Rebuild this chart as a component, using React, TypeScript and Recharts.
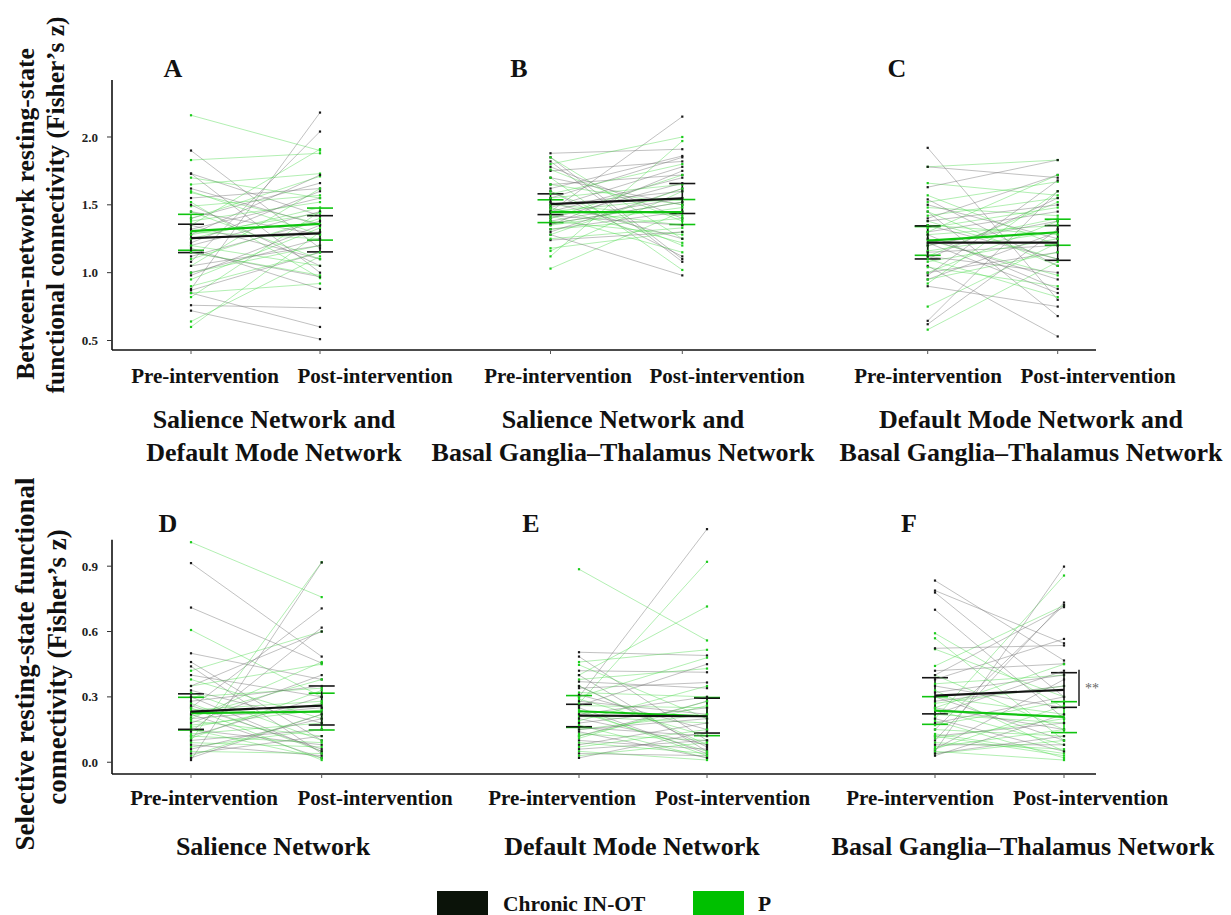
import React from 'react';
import { ComposedChart, Scatter, XAxis, YAxis, ErrorBar, ReferenceLine } from 'recharts';

type Pair = [number, number];
type Stat = [number, number, number]; // mean, lower, upper

// ---------- text ----------
const CATEGORIES = ['Pre-intervention', 'Post-intervention'];
const GROUPS = ['Chronic IN-OT', 'P'];
const PANEL_LETTERS = ['A', 'B', 'C', 'D', 'E', 'F'];
const PANEL_TITLES: string[][] = [
  ['Salience Network and', 'Default Mode Network'],
  ['Salience Network and', 'Basal Ganglia\u2013Thalamus Network'],
  ['Default Mode Network and', 'Basal Ganglia\u2013Thalamus Network'],
  ['Salience Network'],
  ['Default Mode Network'],
  ['Basal Ganglia\u2013Thalamus Network'],
];
const ROW1_YTITLE = ['Between-network resting-state', 'functional connectivity (Fisher\u2019s z)'];
const ROW2_YTITLE = ['Selective resting-state functional', 'connectivity (Fisher\u2019s z)'];
const ROW1_TICKS = [0.5, 1.0, 1.5, 2.0];
const ROW2_TICKS = [0.0, 0.3, 0.6, 0.9];
const SIG_LABEL = '**';

// ---------- data: [pre, post] per participant ----------
const A_BLACK: Pair[] = [
  [1.90, 1.18], [0.88, 2.18], [1.08, 2.04], [1.73, 1.42], [1.73, 1.00], [1.55, 1.62],
  [0.72, 0.51], [0.76, 0.74], [0.85, 0.60], [1.40, 1.66], [1.32, 1.55], [1.25, 1.30],
  [1.20, 1.45], [1.18, 0.88], [1.12, 1.38], [1.35, 1.10], [1.00, 1.25], [0.98, 1.35],
  [1.45, 1.28], [1.28, 1.72], [1.15, 0.97], [1.05, 1.20], [0.87, 1.15], [1.50, 1.05],
  [1.62, 1.35], [1.22, 1.60],
];
const A_GREEN: Pair[] = [
  [2.16, 1.90], [1.83, 1.88], [1.65, 1.73], [1.59, 1.36], [1.52, 0.96], [1.49, 1.57],
  [0.60, 1.30], [0.64, 1.12], [0.82, 1.45], [0.85, 0.92], [1.40, 1.71], [1.35, 1.91],
  [1.30, 1.25], [1.25, 1.48], [1.20, 1.05], [1.10, 1.40], [1.05, 1.62], [1.00, 1.20],
  [0.95, 1.33], [1.45, 1.10], [1.38, 1.52], [1.15, 0.98], [1.28, 1.44], [1.60, 1.28],
  [1.70, 1.55], [0.90, 1.15],
];
const B_BLACK: Pair[] = [
  [1.88, 1.91], [1.85, 1.10], [1.82, 1.08], [1.45, 2.15], [1.78, 1.40], [1.75, 1.82],
  [1.70, 1.50], [1.65, 1.72], [1.60, 1.12], [1.55, 1.85], [1.50, 1.60], [1.48, 1.78],
  [1.42, 1.35], [1.40, 1.66], [1.38, 1.55], [1.35, 1.75], [1.32, 1.45], [1.30, 1.62],
  [1.28, 0.98], [1.24, 1.30], [1.52, 1.25], [1.62, 1.86], [1.45, 1.70], [1.36, 1.52],
];
const B_GREEN: Pair[] = [
  [1.03, 1.45], [1.12, 1.97], [1.16, 1.60], [1.18, 1.30], [1.80, 2.00], [1.85, 1.25],
  [1.76, 1.38], [1.70, 1.02], [1.65, 1.50], [1.60, 1.20], [1.55, 1.65], [1.50, 1.42],
  [1.47, 1.35], [1.45, 1.55], [1.42, 1.15], [1.40, 1.72], [1.38, 1.28], [1.35, 1.48],
  [1.32, 1.40], [1.28, 1.62], [1.25, 1.33], [1.58, 1.80], [1.48, 1.22], [1.36, 1.52],
];
const C_BLACK: Pair[] = [
  [1.92, 0.80], [1.78, 1.70], [1.63, 1.83], [1.54, 1.05], [1.50, 1.25], [1.45, 0.68],
  [1.40, 1.72], [1.35, 1.10], [1.30, 1.45], [1.25, 0.95], [1.20, 1.38], [1.15, 1.20],
  [1.10, 1.55], [1.05, 0.53], [1.00, 1.15], [0.95, 1.30], [0.90, 0.75], [0.645, 1.60],
  [0.62, 1.32], [1.28, 0.88], [1.12, 1.00], [1.38, 1.50], [0.98, 1.68], [1.22, 0.85],
];
const C_GREEN: Pair[] = [
  [1.78, 1.83], [1.66, 1.57], [1.57, 1.20], [1.52, 1.67], [1.48, 1.42], [1.42, 1.55],
  [1.38, 1.10], [1.33, 1.48], [1.28, 1.35], [1.24, 0.98], [1.20, 1.40], [1.16, 1.30],
  [1.12, 1.52], [1.08, 1.25], [1.04, 0.90], [1.00, 1.38], [0.95, 1.15], [0.92, 1.60],
  [0.75, 1.22], [0.58, 1.08], [1.45, 1.05], [1.30, 1.72], [1.10, 0.82], [1.35, 1.28],
];
const D_BLACK: Pair[] = [
  [0.914, 0.485], [0.71, 0.455], [0.50, 0.38], [0.46, 0.10], [0.44, 0.04], [0.01, 0.917],
  [0.25, 0.706], [0.35, 0.60], [0.40, 0.30], [0.30, 0.05], [0.28, 0.35], [0.22, 0.02],
  [0.20, 0.25], [0.18, 0.40], [0.15, 0.08], [0.12, 0.30], [0.10, 0.15], [0.08, 0.03],
  [0.06, 0.20], [0.04, 0.12], [0.33, 0.18], [0.14, 0.618], [0.26, 0.06], [0.02, 0.22],
];
const D_GREEN: Pair[] = [
  [1.01, 0.758], [0.607, 0.30], [0.10, 0.918], [0.42, 0.60], [0.38, 0.20], [0.35, 0.45],
  [0.32, 0.10], [0.30, 0.34], [0.27, 0.05], [0.24, 0.28], [0.21, 0.38], [0.19, 0.12],
  [0.17, 0.24], [0.15, 0.02], [0.13, 0.18], [0.11, 0.33], [0.09, 0.07], [0.07, 0.15],
  [0.05, 0.04], [0.03, 0.22], [0.20, 0.46], [0.25, 0.01], [0.12, 0.09], [0.16, 0.27],
];
const E_BLACK: Pair[] = [
  [0.30, 1.07], [0.505, 0.49], [0.485, 0.10], [0.42, 0.413], [0.40, 0.05], [0.37, 0.34],
  [0.34, 0.366], [0.31, 0.15], [0.28, 0.22], [0.25, 0.04], [0.22, 0.30], [0.20, 0.08],
  [0.18, 0.25], [0.16, 0.12], [0.14, 0.02], [0.12, 0.28], [0.10, 0.06], [0.08, 0.18],
  [0.06, 0.10], [0.04, 0.03], [0.02, 0.14], [0.26, 0.45], [0.15, 0.20], [0.35, 0.07],
];
const E_GREEN: Pair[] = [
  [0.886, 0.559], [0.27, 0.92], [0.40, 0.715], [0.46, 0.516], [0.447, 0.20], [0.38, 0.43],
  [0.35, 0.08], [0.32, 0.30], [0.29, 0.12], [0.26, 0.25], [0.23, 0.05], [0.21, 0.18],
  [0.19, 0.35], [0.17, 0.02], [0.15, 0.22], [0.13, 0.10], [0.11, 0.28], [0.09, 0.04],
  [0.07, 0.15], [0.05, 0.01], [0.03, 0.09], [0.30, 0.48], [0.12, 0.26], [0.24, 0.03],
];
const F_BLACK: Pair[] = [
  [0.834, 0.467], [0.788, 0.546], [0.779, 0.30], [0.70, 0.20], [0.523, 0.536], [0.42, 0.452],
  [0.05, 0.898], [0.10, 0.733], [0.15, 0.722], [0.38, 0.566], [0.35, 0.25], [0.32, 0.40],
  [0.30, 0.10], [0.28, 0.35], [0.25, 0.15], [0.22, 0.42], [0.20, 0.05], [0.18, 0.30],
  [0.12, 0.18], [0.08, 0.08], [0.06, 0.38], [0.04, 0.12], [0.40, 0.712], [0.03, 0.22],
];
const F_GREEN: Pair[] = [
  [0.592, 0.25], [0.569, 0.10], [0.519, 0.30], [0.442, 0.72], [0.20, 0.857], [0.40, 0.15],
  [0.36, 0.40], [0.33, 0.05], [0.30, 0.22], [0.27, 0.35], [0.24, 0.08], [0.22, 0.18],
  [0.19, 0.02], [0.17, 0.28], [0.15, 0.12], [0.13, 0.04], [0.11, 0.20], [0.09, 0.06],
  [0.07, 0.15], [0.05, 0.01], [0.04, 0.10], [0.25, 0.45], [0.12, 0.03], [0.06, 0.26],
];

// ---------- group summaries: [mean, lower, upper] for pre and post ----------
const A_STATS_BLACK: Stat[] = [[1.254, 1.148, 1.357], [1.29, 1.153, 1.42]];
const A_STATS_GREEN: Stat[] = [[1.306, 1.165, 1.43], [1.36, 1.24, 1.476]];
const B_STATS_BLACK: Stat[] = [[1.505, 1.428, 1.581], [1.547, 1.436, 1.657]];
const B_STATS_GREEN: Stat[] = [[1.446, 1.369, 1.537], [1.446, 1.355, 1.539]];
const C_STATS_BLACK: Stat[] = [[1.222, 1.101, 1.345], [1.222, 1.091, 1.347]];
const C_STATS_GREEN: Stat[] = [[1.236, 1.128, 1.34], [1.298, 1.202, 1.394]];
const D_STATS_BLACK: Stat[] = [[0.232, 0.151, 0.314], [0.26, 0.171, 0.35]];
const D_STATS_GREEN: Stat[] = [[0.225, 0.148, 0.298], [0.232, 0.148, 0.317]];
const E_STATS_BLACK: Stat[] = [[0.214, 0.163, 0.266], [0.211, 0.134, 0.294]];
const E_STATS_GREEN: Stat[] = [[0.234, 0.16, 0.306], [0.211, 0.122, 0.297]];
const F_STATS_BLACK: Stat[] = [[0.306, 0.222, 0.388], [0.332, 0.252, 0.411]];
const F_STATS_GREEN: Stat[] = [[0.237, 0.174, 0.301], [0.208, 0.136, 0.278]];
const F_SIG_RANGE = [0.258, 0.424];

// ---------- layout (not data) ----------
const FONT = "'Liberation Serif', 'Times New Roman', Times, serif";
const W = 1231;
const X_DOMAIN: [number, number] = [0, 984];
const ROW1_SLOTS: Pair[] = [[79, 208], [438.5, 570.3], [815.7, 945.7]];
const ROW2_SLOTS: Pair[] = [[79, 209.7], [467, 595], [823, 952]];
const ROW1_LABEL_SLOTS = [93, 263, 446, 615, 816, 986];
const ROW2_LABEL_SLOTS = [92, 263, 450, 620.5, 808, 978.5];
const SIG_SLOT = 967;

const BLACK_DOT = '#1a1a1a';
const BLACK_LINE = '#707070';
const GREEN_DOT = '#1ccc1c';
const GREEN_LINE = '#3fd83f';
const MEAN_BLACK = '#141414';
const MEAN_GREEN = '#10c410';

const emptyShape = () => <g />;
const squareShape = (color: string) => (p: any) => (
  <rect x={p.cx - 1.1} y={p.cy - 1.1} width={2.2} height={2.2} fill={color} />
);

function pairScatter(pair: Pair, xs: Pair, green: boolean, key: string) {
  return (
    <Scatter
      key={key}
      data={[{ x: xs[0], y: pair[0] }, { x: xs[1], y: pair[1] }]}
      fill={green ? GREEN_DOT : BLACK_DOT}
      line={{ stroke: green ? GREEN_LINE : BLACK_LINE, strokeWidth: 0.8, strokeOpacity: green ? 0.5 : 0.55 }}
      shape={squareShape(green ? GREEN_DOT : BLACK_DOT)}
      isAnimationActive={false}
      legendType="none"
    />
  );
}

function meanScatter(stats: Stat[], xs: Pair, color: string, key: string) {
  const data = stats.map((s, j) => ({ x: xs[j], y: s[0], err: [s[0] - s[1], s[2] - s[0]] }));
  return (
    <Scatter
      key={key}
      data={data}
      fill={color}
      line={{ stroke: color, strokeWidth: 2.2 }}
      shape={emptyShape}
      isAnimationActive={false}
      legendType="none"
    >
      <ErrorBar dataKey="err" direction="y" width={13} stroke={color} strokeWidth={1.6} />
    </Scatter>
  );
}

type Panel = { black: Pair[]; green: Pair[]; sb: Stat[]; sg: Stat[] };

const ROW1_PANELS: Panel[] = [
  { black: A_BLACK, green: A_GREEN, sb: A_STATS_BLACK, sg: A_STATS_GREEN },
  { black: B_BLACK, green: B_GREEN, sb: B_STATS_BLACK, sg: B_STATS_GREEN },
  { black: C_BLACK, green: C_GREEN, sb: C_STATS_BLACK, sg: C_STATS_GREEN },
];
const ROW2_PANELS: Panel[] = [
  { black: D_BLACK, green: D_GREEN, sb: D_STATS_BLACK, sg: D_STATS_GREEN },
  { black: E_BLACK, green: E_GREEN, sb: E_STATS_BLACK, sg: E_STATS_GREEN },
  { black: F_BLACK, green: F_GREEN, sb: F_STATS_BLACK, sg: F_STATS_GREEN },
];

function Row(props: {
  id: string; top: number; height: number; marginTop: number; panels: Panel[]; slots: Pair[]; labelSlots: number[];
  yDomain: [number, number]; yAxisTop: number; yTicks: number[]; labelDy: number; sig?: boolean;
}) {
  const { id, top, height, marginTop, panels, slots, labelSlots, yDomain, yAxisTop, yTicks, labelDy, sig } = props;
  const series: React.ReactNode[] = [];
  panels.forEach((p, pi) => {
    const n = Math.max(p.black.length, p.green.length);
    for (let i = 0; i < n; i++) {
      if (p.green[i]) series.push(pairScatter(p.green[i], slots[pi], true, `${id}-g-${pi}-${i}`));
      if (p.black[i]) series.push(pairScatter(p.black[i], slots[pi], false, `${id}-b-${pi}-${i}`));
    }
  });
  panels.forEach((p, pi) => {
    series.push(meanScatter(p.sg, slots[pi], MEAN_GREEN, `${id}-mg-${pi}`));
    series.push(meanScatter(p.sb, slots[pi], MEAN_BLACK, `${id}-mb-${pi}`));
  });
  const CatTick = (tp: any) => {
    const idx = labelSlots.indexOf(tp.payload.value);
    return (
      <text x={tp.x} y={tp.y + labelDy} textAnchor="middle" fontFamily={FONT} fontWeight={700} fontSize={21} fill="#111">
        {CATEGORIES[(idx < 0 ? 0 : idx) % 2]}
      </text>
    );
  };
  return (
    <div style={{ position: 'absolute', left: 0, top }}>
      <ComposedChart width={W} height={height} margin={{ top: marginTop, right: 135, bottom: 0, left: 72 }}>
        <XAxis
          dataKey="x"
          type="number"
          domain={X_DOMAIN}
          allowDataOverflow
          ticks={slots.flat()}
          interval={0}
          height={6}
          tickSize={4}
          tick={() => <g />}
          axisLine={{ stroke: '#111', strokeWidth: 1.6 }}
          tickLine={{ stroke: '#555', strokeWidth: 1 }}
        />
        <XAxis
          xAxisId="lab"
          dataKey="x"
          type="number"
          domain={X_DOMAIN}
          allowDataOverflow
          ticks={labelSlots}
          interval={0}
          height={44}
          tickSize={0}
          tickMargin={0}
          axisLine={false}
          tickLine={false}
          tick={CatTick}
        />
        <YAxis
          dataKey="y"
          type="number"
          domain={yDomain}
          allowDataOverflow
          ticks={yTicks}
          interval={0}
          width={40}
          tickSize={5}
          tickMargin={9}
          tickFormatter={(v: number) => v.toFixed(1)}
          tick={{ fontFamily: FONT, fontWeight: 700, fontSize: 13, fill: '#222' }}
          axisLine={false}
          tickLine={{ stroke: '#333', strokeWidth: 1 }}
        />
        <ReferenceLine
          segment={[{ x: X_DOMAIN[0], y: yDomain[0] }, { x: X_DOMAIN[0], y: yAxisTop }]}
          stroke="#111"
          strokeWidth={1.6}
          ifOverflow="visible"
        />
        {series}
        {sig && (
          <ReferenceLine
            segment={[{ x: SIG_SLOT, y: F_SIG_RANGE[0] }, { x: SIG_SLOT, y: F_SIG_RANGE[1] }]}
            stroke="#222"
            strokeWidth={1.5}
            ifOverflow="visible"
            label={{ value: SIG_LABEL, position: 'right', fill: '#666', fontSize: 14, fontFamily: FONT, offset: 6 }}
          />
        )}
      </ComposedChart>
    </div>
  );
}

const LETTER_POS: Pair[] = [[173, 77], [519, 77], [897, 77], [168, 532], [531, 532], [909, 532]];
const TITLE_X = [274, 623, 1031, 273, 632, 1023];

export default function App() {
  const txt = { fontFamily: FONT, fontWeight: 700, fill: '#111' } as const;
  return (
    <div style={{ position: 'absolute', left: 0, top: 0, width: W, height: 915, background: '#fff', overflow: 'hidden' }}>
      <Row id="r1" top={0} height={400} marginTop={80} panels={ROW1_PANELS} slots={ROW1_SLOTS} labelSlots={ROW1_LABEL_SLOTS}
        yDomain={[0.43, 2.42]} yAxisTop={2.42} yTicks={ROW1_TICKS} labelDy={27} />
      <Row id="r2" top={460} height={364} marginTop={65} panels={ROW2_PANELS} slots={ROW2_SLOTS} labelSlots={ROW2_LABEL_SLOTS}
        yDomain={[-0.054, 1.089]} yAxisTop={1.021} yTicks={ROW2_TICKS} labelDy={25} sig />
      <svg width={W} height={915} style={{ position: 'absolute', left: 0, top: 0, pointerEvents: 'none' }}>
        {PANEL_LETTERS.map((l, i) => (
          <text key={l} x={LETTER_POS[i][0]} y={LETTER_POS[i][1]} textAnchor="middle" fontSize={26} {...txt}>{l}</text>
        ))}
        {PANEL_TITLES.map((lines, i) =>
          lines.map((line, j) => (
            <text key={`${i}-${j}`} x={TITLE_X[i]} y={i < 3 ? 428 + j * 33 : 855} textAnchor="middle" fontSize={26} {...txt}>
              {line}
            </text>
          ))
        )}
        <text transform="translate(25,214) rotate(-90)" textAnchor="middle" dominantBaseline="central" fontSize={25.5} {...txt}>{ROW1_YTITLE[0]}</text>
        <text transform="translate(55,205) rotate(-90)" textAnchor="middle" dominantBaseline="central" fontSize={25.5} {...txt}>{ROW1_YTITLE[1]}</text>
        <text transform="translate(25,664) rotate(-90)" textAnchor="middle" dominantBaseline="central" fontSize={27} {...txt}>{ROW2_YTITLE[0]}</text>
        <text transform="translate(57,667) rotate(-90)" textAnchor="middle" dominantBaseline="central" fontSize={27} {...txt}>{ROW2_YTITLE[1]}</text>
        <rect x={437} y={891} width={51} height={24} fill="#0b1309" />
        <text x={503} y={911} fontSize={21.5} {...txt}>{GROUPS[0]}</text>
        <rect x={693} y={891} width={51} height={24} fill="#00c000" />
        <text x={758} y={911} fontSize={21.5} {...txt}>{GROUPS[1]}</text>
      </svg>
    </div>
  );
}
